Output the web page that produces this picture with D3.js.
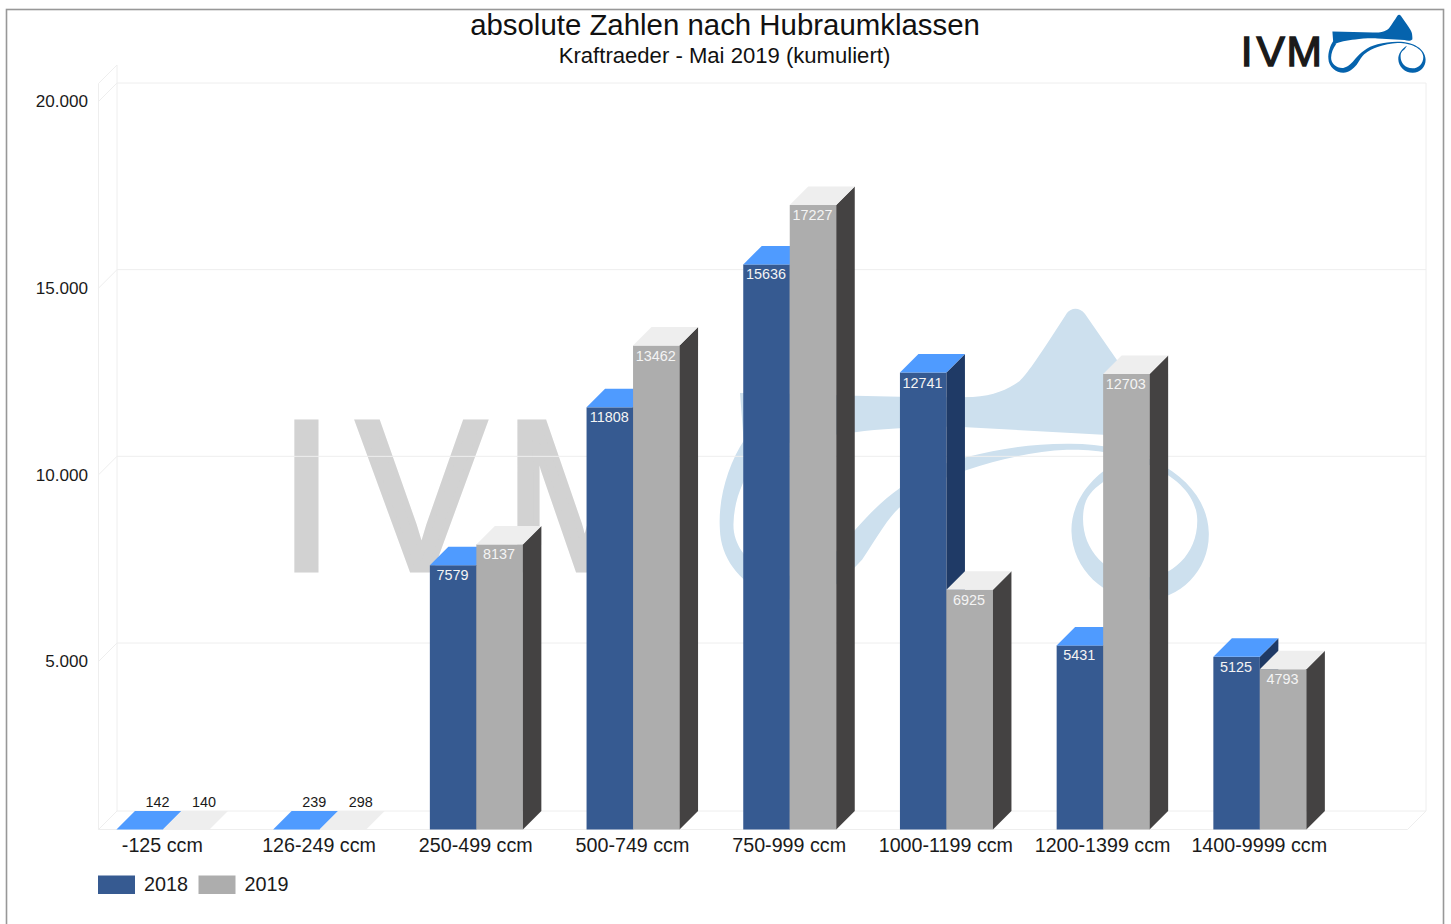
<!DOCTYPE html>
<html><head><meta charset="utf-8">
<script src="https://cdn.jsdelivr.net/npm/d3@7"></script>
<style>html,body{margin:0;padding:0;background:#fff}svg{display:block}text{font-family:"Liberation Sans",Arial,sans-serif}</style>
</head><body><svg id="c" width="1451" height="924"></svg>
<script>
const categories=["-125 ccm","126-249 ccm","250-499 ccm","500-749 ccm","750-999 ccm","1000-1199 ccm","1200-1399 ccm","1400-9999 ccm"];
const seriesNames=["2018","2019"];
const values2018=[142,239,7579,11808,15636,12741,5431,5125];
const values2019=[140,298,8137,13462,17227,6925,12703,4793];
const yTicks=[5000,10000,15000,20000];
const yDomain=[500,20000];

const svg=d3.select("#c");
const depth=18.5;
const plotLeft=98.5,plotRight=1407.5,floorY=829.5,plotTop=101.5;
const y=d3.scaleLinear().domain(yDomain).range([floorY,plotTop]).clamp(true);
const x0=d3.scaleBand().domain(categories).range([84.6,84.6+156.7*8]);
const x1=d3.scaleBand().domain(seriesNames).range([0,93]);
const colors={
 "2018":{front:"#365a91",top:"#4f9bff",side:"#1f3a66"},
 "2019":{front:"#adadad",top:"#eeeeee",side:"#444242"}
};
const grid="#eeeeee";

svg.append("rect").attr("x",6.5).attr("y",9.5).attr("width",1437).attr("height",930).attr("fill","#fff").attr("stroke","#989898").attr("stroke-width",1.6);

// logo, local coordinates relative to the horn peak
const horn="M-66.6,16.9 C-50,17 -35,18 -20.3,17.7 C-16,17.4 -13,16 -11,14.5 C-9.5,13 -8,11 -1.6,1 C-0.8,0 0.8,-0.3 2,1.2 L8.3,10.3 C11,14 12.7,17 13,19 C13.4,22 13.5,24 13.3,24.8 C11,26.8 8,26 5.6,25.2 L-21.5,23.7 C-30,23.4 -38,24 -43.7,24.7 C-52,25.6 -60,27 -65.6,30 Z";
const swoosh="M-65.6,26 C-69,31 -71,38 -70.6,44 C-70.4,52 -63,58 -55.7,58 C-50,58 -46,54 -42.3,50 C-39,45 -37,41.5 -34.8,39.6 C-30,35.5 -26,33.5 -21.5,32.2 C-15,30 -8,28.5 -1.6,28.2 C10,27.8 24,33 24.3,42 C24.5,49 19,53.8 13.5,53.6 C6,53.3 1.6,48 1.6,42 C1.6,38 3,36.5 5.6,34.6 L8,31 C3,33.5 -0.9,39 -0.7,44.5 C-0.5,52 6,58.2 13.9,58 C21,58 26.8,52 26.6,44.7 C26.3,34 14,26.8 -1.6,27 C-9,27 -15,28 -21.5,29.6 C-27,31 -31,33 -34.8,35.8 C-38,38 -41,41 -43.7,44.1 C-47,48 -50,52 -55.7,53.2 C-62,53.8 -68,49 -67.9,43 C-67.8,38 -66,34 -63,29.5 Z";
function logo(g,sx,ox,oy,textFill,blue,squeeze,xs,fs,base){
  const l=g.append("g").attr("transform",`translate(${ox},${oy}) scale(${sx})`);
  l.append("text").text("IVM").attr("transform",`scale(${squeeze},1)`).attr("x",xs).attr("y",base).attr("font-size",fs)
    .attr("fill",textFill).attr("stroke",textFill).attr("stroke-width",1.4);
  l.append("path").attr("d",horn).attr("fill",blue);
  l.append("path").attr("d",swoosh).attr("fill",blue);
}
logo(svg,5.03,1075,308,"#d2d2d2","#cde0ee",0.9,"-175.6 -158.4 -125.9",42,51.9);
logo(svg,1,1399,14.7,"#1a1a1a","#0563ad",1,"-158.3 -142.6 -112.4",42.5,51.6);

// 3D walls
const walls=svg.append("g").attr("fill","none").attr("stroke",grid).attr("stroke-width",1);
const bx=plotLeft+depth, by=-depth;
const wl=(a,b,c,d)=>walls.append("line").attr("x1",a).attr("y1",b).attr("x2",c).attr("y2",d);
wl(plotLeft,y(20000)-18,plotLeft,floorY);
wl(bx,y(20000)+by-18,bx,floorY+by);
wl(plotRight+depth,y(20000)+by,plotRight+depth,floorY+by);
wl(plotLeft,floorY,plotRight,floorY);
wl(bx,floorY+by,plotRight+depth,floorY+by);
wl(plotLeft,floorY,bx,floorY+by);
wl(plotRight,floorY,plotRight+depth,floorY+by);
wl(plotLeft,y(20000)-18,bx,y(20000)+by-18);
yTicks.forEach(t=>{
  wl(plotLeft,y(t),bx,y(t)+by);
  wl(bx,y(t)+by,plotRight+depth,y(t)+by);
});

// axes
const loc=d3.formatLocale({decimal:",",thousands:".",grouping:[3],currency:["","€"]});
const ya=svg.append("g").attr("transform",`translate(${plotLeft},0)`)
 .call(d3.axisLeft(y).tickValues(yTicks).tickFormat(loc.format(",d")).tickSize(0).tickPadding(10.5));
ya.select(".domain").remove();
ya.selectAll("text").attr("font-size",17.1).attr("fill","#1a1a1a").style("font-family",'"Liberation Sans"');

const xa=svg.append("g").attr("transform",`translate(-0.6,${floorY})`)
 .call(d3.axisBottom(x0).tickSize(0).tickPadding(9));
xa.select(".domain").remove();
xa.selectAll("text").attr("font-size",19.7).attr("fill","#1a1a1a").style("font-family",'"Liberation Sans"');

// bars
const rows=categories.map((c,i)=>({c,vals:[values2018[i],values2019[i]]}));
const grp=svg.append("g").selectAll("g").data(rows).join("g");
const poly=a=>a.map(p=>p.join(",")).join(" ");
grp.each(function(d){
  const g=d3.select(this);
  d.vals.forEach((v,k)=>{
    const s=seriesNames[k],c=colors[s];
    const xl=x0(d.c)+(x0.bandwidth()-x1.range()[1])/2+x1(s),xr=xl+x1.bandwidth();
    const yt=y(v);
    const h=floorY-yt;
    if(h>0.5){
      g.append("rect").attr("x",xl).attr("y",yt).attr("width",x1.bandwidth()).attr("height",h).attr("fill",c.front);
      g.append("polygon").attr("points",poly([[xr,yt],[xr+depth,yt-depth],[xr+depth,floorY-depth],[xr,floorY]])).attr("fill",c.side);
    }
    g.append("polygon").attr("points",poly([[xl,yt],[xr,yt],[xr+depth,yt-depth],[xl+depth,yt-depth]])).attr("fill",c.top);
    const small=h<=0.5;
    g.append("text").text(v)
      .attr("x",(xl+xr)/2-0.6+(small?depth:0))
      .attr("y",small?802:yt+10)
      .attr("dy","0.35em").attr("text-anchor","middle").attr("font-size",14.4)
      .attr("fill",small?"#1a1a1a":"#f4f4f4");
  });
});

// titles
svg.append("text").text("absolute Zahlen nach Hubraumklassen").attr("x",725).attr("y",35).attr("text-anchor","middle").attr("font-size",29.4).attr("fill","#111");
svg.append("text").text("Kraftraeder - Mai 2019 (kumuliert)").attr("x",724.5).attr("y",62.5).attr("text-anchor","middle").attr("font-size",22.1).attr("fill","#111");

// legend
const lx=d3.scaleOrdinal().domain(seriesNames).range([98,198.5]);
seriesNames.forEach(s=>{
  svg.append("rect").attr("x",lx(s)).attr("y",875.5).attr("width",37).attr("height",18.5).attr("fill",colors[s].front);
  svg.append("text").text(s).attr("x",lx(s)+46).attr("y",891).attr("font-size",19.8).attr("fill","#1a1a1a");
});
</script></body></html>
